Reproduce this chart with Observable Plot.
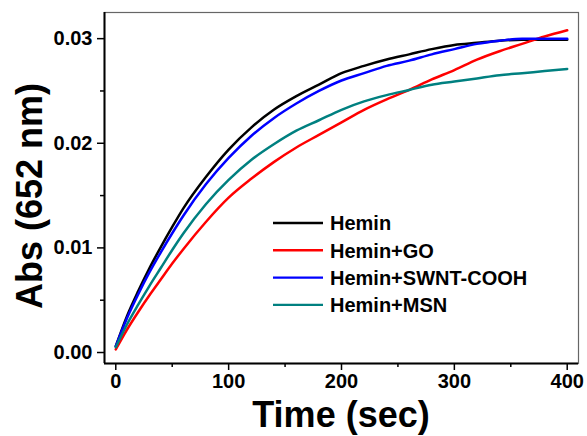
<!DOCTYPE html>
<html>
<head>
<meta charset="utf-8">
<script src="https://cdn.jsdelivr.net/npm/d3@7"></script>
<script src="https://cdn.jsdelivr.net/npm/@observablehq/plot@0.6"></script>
<style>
  html, body { margin: 0; padding: 0; background: #fff; }
  #chart svg { font-family: "Liberation Sans", Arial, sans-serif; font-weight: bold; }
</style>
</head>
<body>
<div id="chart"></div>
<script>
const time = [0, 10, 20, 30, 40, 50, 60, 80, 100, 120, 140, 160, 180, 200, 220, 240, 260, 280, 300, 320, 340, 360, 380, 400];
const hemin   = [0.0006, 0.0035, 0.0059, 0.0081, 0.0101, 0.0120, 0.0138, 0.0168, 0.0194, 0.0215, 0.0232, 0.0245, 0.0256, 0.0267, 0.0274, 0.0280, 0.0285, 0.0290, 0.0294, 0.0296, 0.0298, 0.0299, 0.0299, 0.0299];
const heminGO = [0.0003, 0.0022, 0.0039, 0.0055, 0.0070, 0.0085, 0.0099, 0.0125, 0.0148, 0.0166, 0.0182, 0.0196, 0.0208, 0.0220, 0.0232, 0.0242, 0.0251, 0.0261, 0.0270, 0.0280, 0.0288, 0.0295, 0.0302, 0.0308];
const heminSWNT = [0.0006, 0.0033, 0.0056, 0.0077, 0.0096, 0.0114, 0.0131, 0.0161, 0.0186, 0.0207, 0.0224, 0.0238, 0.0250, 0.0260, 0.0267, 0.0274, 0.0279, 0.0285, 0.0290, 0.0295, 0.0298, 0.0300, 0.0300, 0.0300];
const heminMSN = [0.0005, 0.0027, 0.0046, 0.0064, 0.0081, 0.0098, 0.0114, 0.0142, 0.0165, 0.0184, 0.0199, 0.0212, 0.0222, 0.0232, 0.0240, 0.0246, 0.0251, 0.0256, 0.0259, 0.0262, 0.0265, 0.0267, 0.0269, 0.0271];

const seriesNames = ["Hemin", "Hemin+GO", "Hemin+SWNT-COOH", "Hemin+MSN"];
const seriesValues = [hemin, heminGO, heminSWNT, heminMSN];
const seriesColors = ["#000000", "#ff0000", "#0000ff", "#008080"];

const xTicks = [0, 100, 200, 300, 400];
const xMinor = [50, 150, 250, 350];
const yTicks = [0.00, 0.01, 0.02, 0.03];
const yMinor = [0.005, 0.015, 0.025];
const xDomain = [-10, 410];
const yDomain = [-0.00105, 0.0325];

const data = [];
seriesNames.forEach((name, i) => {
  seriesValues[i].forEach((v, j) => data.push({series: name, t: time[j], v}));
});

const W = 587, H = 436;
const plot = Plot.plot({
  width: W, height: H,
  marginLeft: 104, marginRight: 9, marginTop: 12, marginBottom: 73,
  style: {fontSize: "20px", color: "#000", background: "#fff"},
  x: {domain: xDomain},
  y: {domain: yDomain},
  color: {domain: seriesNames, range: seriesColors},
  marks: [
    Plot.frame({stroke: "#666", strokeWidth: 1.2}),
    Plot.line(data, {x: "t", y: "v", z: "series", stroke: "series", strokeWidth: 2.5, curve: "monotone-x"}),
    Plot.ruleX([xDomain[0]], {stroke: "#000", strokeWidth: 2}),
    Plot.ruleY([yDomain[0]], {stroke: "#000", strokeWidth: 2}),
    Plot.axisX({ticks: xTicks, tickSize: 7, tickPadding: 3, tickFormat: d => String(d), label: null, strokeWidth: 1.5, fontSize: 20, fontWeight: "bold"}),
    Plot.axisX({ticks: xMinor, tickSize: 4, tickFormat: () => "", label: null, strokeWidth: 1.5}),
    Plot.axisY({ticks: yTicks, tickSize: 7, tickPadding: 5, tickFormat: d3.format(".2f"), label: null, strokeWidth: 1.5, fontSize: 20, fontWeight: "bold"}),
    Plot.axisY({ticks: yMinor, tickSize: 4, tickFormat: () => "", label: null, strokeWidth: 1.5})
  ]
});
document.getElementById("chart").appendChild(plot);

const svg = d3.select(plot);
// axis titles
svg.append("text")
  .attr("x", 341).attr("y", 427)
  .attr("text-anchor", "middle")
  .style("font-size", "36px").style("font-weight", "bold").attr("fill", "#000")
  .text("Time (sec)");
svg.append("text")
  .attr("transform", "translate(42,196) rotate(-90)")
  .attr("text-anchor", "middle")
  .style("font-size", "36px").style("font-weight", "bold").attr("fill", "#000")
  .text("Abs (652 nm)");

// legend
const lg = svg.append("g").attr("transform", "translate(273,223)");
seriesNames.forEach((name, i) => {
  const g = lg.append("g").attr("transform", `translate(0,${i * 27.3})`);
  g.append("line").attr("x1", 0).attr("x2", 50).attr("y1", 0).attr("y2", 0)
    .attr("stroke", seriesColors[i]).attr("stroke-width", 2.4);
  g.append("text").attr("x", 57).attr("y", 0).attr("dy", "0.36em")
    .attr("text-anchor", "start")
    .style("font-size", "20px").style("font-weight", "bold").attr("fill", "#000")
    .text(name);
});
</script>
</body>
</html>
